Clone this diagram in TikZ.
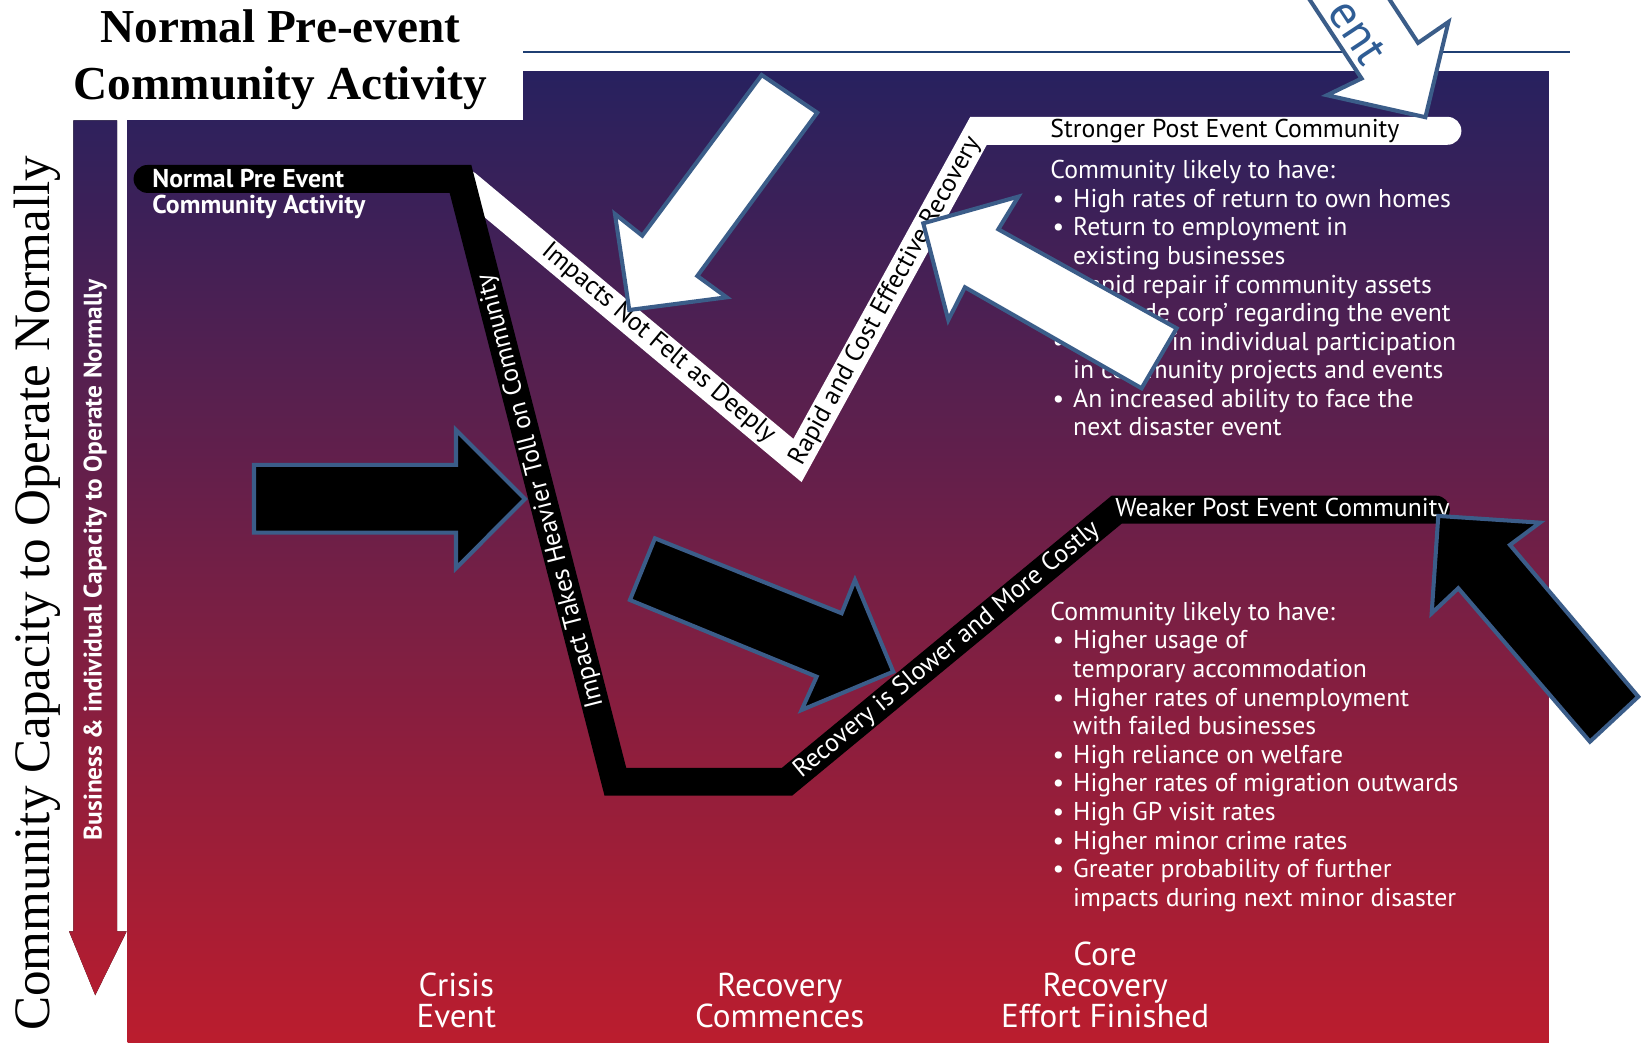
\documentclass[tikz,border=0pt]{standalone}
\usepackage{fontspec}
\setmainfont{Liberation Serif}
\newfontfamily\panelfont{PT Sans}
\definecolor{gradtop}{HTML}{27215F}
\definecolor{gradmid}{HTML}{70234F}
\definecolor{gradbot}{HTML}{BB1D2E}
\definecolor{arrowblue}{HTML}{3B5D89}
\definecolor{arrowtext}{HTML}{2F5D95}
\definecolor{rulenavy}{HTML}{1F3F73}
\begin{document}
\begin{tikzpicture}[x=0.1mm,y=-0.1mm,
  bggrad/.style={top color=gradtop,middle color=gradmid,bottom color=gradbot},
  blockarrow/.style={draw=arrowblue,line width=1.1pt,line join=miter},
  band/.style={line width=7.6pt,line join=miter,line cap=round},
  lbl/.style={inner sep=0pt,font=\panelfont\fontsize{7}{7.77}\selectfont},
  stage/.style={inner sep=0pt,white,align=center,font=\panelfont\fontsize{9}{8.5}\selectfont}]
\useasboundingbox (0,0) rectangle (1568,996);
\clip (0,0) rectangle (1568,996);
\fill[white] (0,0) rectangle (1568,996);
\fill[bggrad] (122,68) rectangle (1480,996);
\fill[white] (0,0) rectangle (500,115);
\draw[rulenavy,line width=0.6pt] (500,50) -- (1500,50);
\begin{scope}
\clip (70,115) -- (112,115) -- (112,890) -- (121,890) -- (91,951) -- (66,890) -- (70,890) -- cycle;
\fill[bggrad] (60,68) rectangle (130,996);
\end{scope}

\node[inner sep=0pt,align=center,font=\bfseries\fontsize{12.85}{15.65}\selectfont] (ttl) at (268,57) {Normal Pre-event\\Community Activity};
\node[inner sep=0pt,rotate=90,font=\fontsize{13.9}{16}\selectfont] (cap) at (36,567) {Community Capacity to Operate Normally};
\node[inner sep=0pt,rotate=90,white,font=\panelfont\bfseries\fontsize{6.9}{8}\selectfont] (biz) at (91,535) {Business \& individual Capacity to Operate Normally};

\coordinate (b0) at (141,171);
\coordinate (b1) at (440,171);
\coordinate (b2) at (588,747);
\coordinate (b3) at (752,747);
\coordinate (b4) at (1067,487);
\coordinate (b5) at (1372,487);
\coordinate (w0) at (446,176);
\coordinate (w1) at (762,440);
\coordinate (w2) at (935,125);
\coordinate (w3) at (1383,125);
\draw[band,white] (w0) -- (w1) -- (w2) -- (w3);
\draw[band,black] (b0) -- (b1) -- (b2) -- (b3) -- (b4) -- (b5);

\node[lbl,white,font=\panelfont\bfseries\fontsize{7}{7.77}\selectfont,anchor=west] (pre0) at (145,171) {Normal Pre Event};
\node[lbl,white,font=\panelfont\bfseries\fontsize{7}{7.77}\selectfont,anchor=west] (pre1) at (145,198) {Community Activity};
\node[lbl,rotate=-39.9] (shallow) at (629,328) {Impacts Not Felt as Deeply};
\node[lbl,rotate=61.2] (rapid) at (846,288) {Rapid and Cost Effective Recovery};
\node[lbl,white,rotate=104.4] (heavy) at (517,469) {Impact Takes Heavier Toll on Community};
\node[lbl,white,rotate=39.5] (slow) at (905,621) {Recovery is Slower and More Costly};
\node[lbl,anchor=west] (strong) at (1003,125) {Stronger Post Event Community};
\node[lbl,white,anchor=west] (weak) at (1065,487) {Weaker Post Event Community};

\node[lbl,white,anchor=north west] (stronglist) at (1003,151) {\begin{tabular}{@{}p{6.2pt}@{}l@{}}
\multicolumn{2}{@{}l@{}}{Community likely to have:}\\
\hspace*{0.6pt}\textbullet & High rates of return to own homes\\
\hspace*{0.6pt}\textbullet & Return to employment in\\
 & existing businesses\\
\hspace*{0.6pt}\textbullet & Rapid repair if community assets\\
\hspace*{0.6pt}\textbullet & Esprit de corp’ regarding the event\\
\hspace*{0.6pt}\textbullet & Increase in individual participation\\
 & in community projects and events\\
\hspace*{0.6pt}\textbullet & An increased ability to face the\\
 & next disaster event
\end{tabular}};
\node[lbl,white,anchor=north west] (weaklist) at (1003,573) {\begin{tabular}{@{}p{6.2pt}@{}l@{}}
\multicolumn{2}{@{}l@{}}{Community likely to have:}\\
\hspace*{0.6pt}\textbullet & Higher usage of\\
 & temporary accommodation\\
\hspace*{0.6pt}\textbullet & Higher rates of unemployment\\
 & with failed businesses\\
\hspace*{0.6pt}\textbullet & High reliance on welfare\\
\hspace*{0.6pt}\textbullet & Higher rates of migration outwards\\
\hspace*{0.6pt}\textbullet & High GP visit rates\\
\hspace*{0.6pt}\textbullet & Higher minor crime rates\\
\hspace*{0.6pt}\textbullet & Greater probability of further\\
 & impacts during next minor disaster
\end{tabular}};

\node[stage] (crisis) at (436,956) {Crisis\\Event};
\node[stage] (commence) at (745,956) {Recovery\\Commences};
\node[stage] (finish) at (1056,941) {Core\\Recovery\\Effort Finished};

\draw[blockarrow,fill=white] (1218.5,-50.3) -- (1301,75) -- (1268,91) -- (1362,112) -- (1384,21) -- (1355,41) -- (1272.5,-84.3) -- cycle;
\draw[blockarrow,fill=white] (727.8,71.7) -- (780.9,107.7) -- (666.3,263.7) -- (694.3,284.1) -- (601.3,296.2) -- (587.6,204.5) -- (613.7,225.2) -- cycle;
\draw[blockarrow,fill=white] (882.2,213.4) -- (973,187.9) -- (953.9,219.1) -- (1124.3,313.7) -- (1090.8,371) -- (922,274.5) -- (906.1,305.8) -- cycle;
\draw[blockarrow,fill=black] (242.7,444.3) -- (435.7,444.3) -- (435.7,410.9) -- (501.6,476.8) -- (435.7,543) -- (435.7,509) -- (242.7,509) -- cycle;
\draw[blockarrow,fill=black] (625.8,514.4) -- (804.2,586) -- (816.9,554.2) -- (853.5,641.8) -- (766,678.4) -- (780.3,646.6) -- (601.9,573.3) -- cycle;
\draw[blockarrow,fill=black] (1374.3,493) -- (1471.4,499.4) -- (1442.8,520.7) -- (1565.4,665.7) -- (1519.2,708.7) -- (1393.4,562.1) -- (1368,586) -- cycle;
\node[inner sep=0pt,rotate=-56.6,text=arrowtext,font=\panelfont\fontsize{13}{15}\selectfont] (entlbl) at (1297,31) {ent};
\end{tikzpicture}
\end{document}
